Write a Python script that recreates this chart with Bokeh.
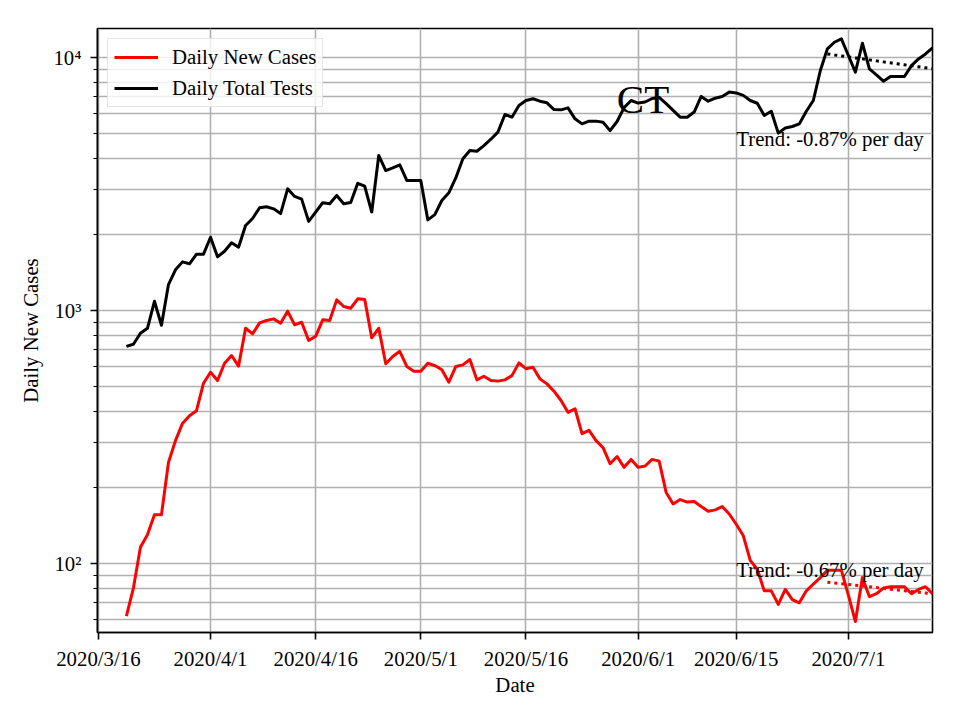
import numpy as np
import pandas as pd
from bokeh.plotting import figure
from bokeh.models import Range1d, FixedTicker, Legend, LegendItem, Label
from bokeh.embed import file_html
from bokeh.resources import INLINE

# ---------------- data ----------------
state_name = "CT"
first_date = "2020-03-20"

daily_new_cases = [
    62, 80, 116, 130, 156, 156, 251, 306, 358, 384,
    402, 516, 570, 529, 619, 664, 603, 851, 809, 894,
    913, 927, 891, 994, 878, 899, 761, 791, 919, 913,
    1102, 1037, 1021, 1112, 1105, 780, 851, 616, 658, 690,
    601, 576, 576, 619, 606, 583, 521, 601, 610, 640,
    532, 550, 529, 526, 532, 553, 621, 589, 597, 537,
    513, 480, 441, 396, 409, 326, 336, 306, 287, 248,
    265, 240, 258, 240, 243, 258, 254, 191, 172, 179,
    175, 176, 168, 161, 163, 168, 157, 143, 129, 103,
    95, 78, 78, 69, 79, 72, 70, 78, 83, 88,
    94, 94, 94, 75, 59, 88, 74, 76, 80, 81,
    81, 81, 76, 79, 81, 76,
]

daily_total_tests = [
    722, 736, 813, 851, 1088, 875, 1267, 1449, 1557, 1530,
    1670, 1670, 1949, 1630, 1715, 1853, 1779, 2167, 2311, 2547,
    2570, 2523, 2417, 3026, 2824, 2755, 2250, 2448, 2667, 2642,
    2850, 2642, 2673, 3184, 3099, 2450, 4101, 3574, 3664, 3766,
    3266, 3266, 3266, 2282, 2394, 2722, 2918, 3348, 3981, 4286,
    4262, 4487, 4755, 5070, 5956, 5810, 6459, 6762, 6871, 6720,
    6620, 6225, 6210, 6324, 5723, 5467, 5604, 5604, 5550, 5140,
    5585, 6340, 6762, 6607, 6669, 6886, 6950, 6576, 6180, 5810,
    5810, 6086, 7015, 6720, 6905, 7015, 7298, 7244, 7087, 6762,
    6596, 5899, 6133, 5025, 5264, 5338, 5467, 6133, 6762, 8885,
    10819, 11490, 11846, 10184, 8748, 11384, 9010, 8544, 8060, 8408,
    8408, 8408, 9292, 9871, 10330, 10915,
]

series_names = ["Daily New Cases", "Daily Total Tests"]
trend_window_days = 16
trend_labels = ["Trend: -0.67% per day", "Trend: -0.87% per day"]

x_tick_dates = ["2020-03-16", "2020-04-01", "2020-04-16", "2020-05-01",
                "2020-05-16", "2020-06-01", "2020-06-15", "2020-07-01"]
x_tick_labels = ["2020/3/16", "2020/4/1", "2020/4/16", "2020/5/1",
                 "2020/5/16", "2020/6/1", "2020/6/15", "2020/7/1"]
y_tick_values = [100, 1000, 10000]
y_tick_labels = ["10\u00b2", "10\u00b3", "10\u2074"]

# ---------------- helpers ----------------
FONT = "Liberation Serif"
FS = "20.8px"
GRID = "#b0b0b0"


def ms(ts):
    return pd.Timestamp(ts).value // 10**6


dates = pd.date_range(first_date, periods=len(daily_new_cases))


def trend(values):
    x = np.arange(trend_window_days, dtype=float)
    y = np.log10(np.asarray(values[-trend_window_days:], dtype=float))
    k, b = np.polyfit(x, y, 1)
    return dates[-trend_window_days:], 10 ** (k * x + b)


p = figure(
    width=952, height=712,
    x_axis_type="datetime", y_axis_type="log",
    x_range=Range1d(pd.Timestamp("2020-03-15 21:00"), pd.Timestamp("2020-07-13 00:00")),
    y_range=Range1d(53.4, 13020),
    output_backend="svg", toolbar_location=None,
    min_border_left=97, min_border_right=20, min_border_top=28, min_border_bottom=80,
)
p.background_fill_color = "white"
p.border_fill_color = "white"
p.outline_line_color = "black"
p.outline_line_width = 1.6

# axes
p.xaxis.ticker = FixedTicker(ticks=[ms(d) for d in x_tick_dates])
p.xaxis.major_label_overrides = {ms(d): lab for d, lab in zip(x_tick_dates, x_tick_labels)}
minor = [m * 10 ** k for k in range(1, 5) for m in range(2, 10)]
p.yaxis.ticker = FixedTicker(ticks=y_tick_values, minor_ticks=minor)
p.yaxis.major_label_overrides = {v: lab for v, lab in zip(y_tick_values, y_tick_labels)}

for ax in (p.xaxis, p.yaxis):
    ax.axis_line_color = "black"
    ax.axis_line_width = 1.6
    ax.major_tick_line_color = "black"
    ax.major_tick_line_width = 1.6
    ax.major_tick_out = 7
    ax.major_tick_in = 0
    ax.minor_tick_line_color = "black"
    ax.minor_tick_line_width = 1.2
    ax.minor_tick_out = 4
    ax.minor_tick_in = 0
    ax.major_label_text_font = FONT
    ax.major_label_text_font_size = FS
    ax.major_label_text_color = "black"
    ax.axis_label_text_font = FONT
    ax.axis_label_text_font_size = FS
    ax.axis_label_text_font_style = "normal"
    ax.axis_label_text_color = "black"
p.xaxis.minor_tick_line_color = None
p.xaxis.axis_label = "Date"
p.yaxis.axis_label = "Daily New Cases"
p.xaxis.major_label_standoff = 7
p.yaxis.major_label_standoff = 9
p.xaxis.axis_label_standoff = 0
p.yaxis.axis_label_standoff = 8

p.xgrid.grid_line_color = GRID
p.xgrid.grid_line_width = 1.6
p.ygrid.grid_line_color = GRID
p.ygrid.grid_line_width = 1.6
p.ygrid.minor_grid_line_color = GRID
p.ygrid.minor_grid_line_width = 1.6

# series
r_cases = p.line(dates, daily_new_cases, line_color="red", line_width=3, line_join="round")
r_tests = p.line(dates, daily_total_tests, line_color="black", line_width=3, line_join="round")

# trends
tx, ty = trend(daily_new_cases)
p.line(tx, ty, line_color="red", line_width=3, line_dash="3 4")
tx2, ty2 = trend(daily_total_tests)
p.line(tx2, ty2, line_color="black", line_width=3, line_dash="3 4")

# text annotations
p.add_layout(Label(x=ms("2020-06-15"), y=95, text=trend_labels[0],
                   text_font=FONT, text_font_size=FS, text_color="black",
                   text_align="left", text_baseline="alphabetic"))
p.add_layout(Label(x=ms("2020-06-15"), y=4790, text=trend_labels[1],
                   text_font=FONT, text_font_size=FS, text_color="black",
                   text_align="left", text_baseline="alphabetic"))
p.add_layout(Label(x=ms("2020-06-01 16:48"), y=6860, text=state_name,
                   text_font=FONT, text_font_size="41px", text_color="black",
                   text_align="center", text_baseline="alphabetic"))

legend = Legend(items=[LegendItem(label=series_names[0], renderers=[r_cases]),
                       LegendItem(label=series_names[1], renderers=[r_tests])],
                location="top_left")
legend.label_text_font = FONT
legend.label_text_font_size = FS
legend.label_text_color = "black"
legend.border_line_color = "#cccccc"
legend.border_line_width = 1.5
legend.background_fill_color = "white"
legend.background_fill_alpha = 0.8
legend.margin = 10
legend.padding = 6
legend.spacing = 7
legend.glyph_width = 44
legend.glyph_height = 22
legend.label_height = 22
legend.label_standoff = 14
p.add_layout(legend)

open("out.html", "w").write(file_html(p, INLINE))
